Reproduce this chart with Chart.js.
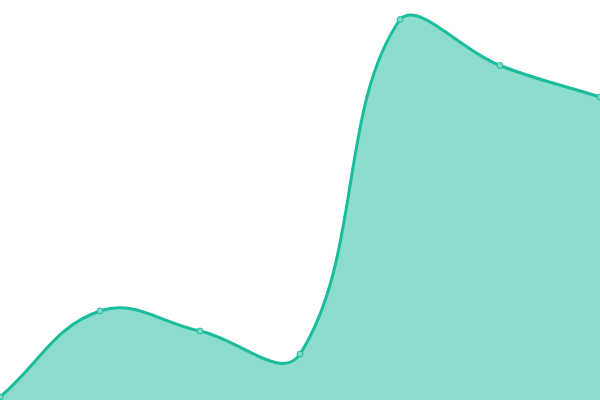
<!DOCTYPE html>
<html>
<head>
<meta charset="utf-8">
<style>
html,body{margin:0;padding:0;background:#fff;}
#wrap{width:600px;height:400px;}
</style>
<script src="https://cdn.jsdelivr.net/npm/chart.js@4.4.1/dist/chart.umd.min.js"></script>
</head>
<body>
<div id="wrap"><canvas id="c" width="600" height="400"></canvas></div>
<script>
const categories = ["A", "B", "C", "D", "E", "F", "G"];
const seriesValues = [3, 89, 69, 46, 380.5, 334.5, 303];

new Chart(document.getElementById('c'), {
  type: 'line',
  data: {
    labels: categories,
    datasets: [{
      data: seriesValues,
      fill: true,
      backgroundColor: 'rgba(26,188,156,0.5)',
      borderColor: '#1abc9c',
      borderWidth: 3,
      tension: 0.4,
      pointRadius: 3,
      pointBackgroundColor: 'rgb(125,216,198)',
      pointBorderColor: '#1abc9c',
      pointBorderWidth: 1
    }]
  },
  options: {
    responsive: false,
    animation: false,
    layout: { padding: 0, autoPadding: false },
    plugins: { legend: { display: false }, tooltip: { enabled: false } },
    scales: {
      x: { display: false, offset: false },
      y: { display: false, min: 0, max: 400 }
    }
  }
});
</script>
</body>
</html>
